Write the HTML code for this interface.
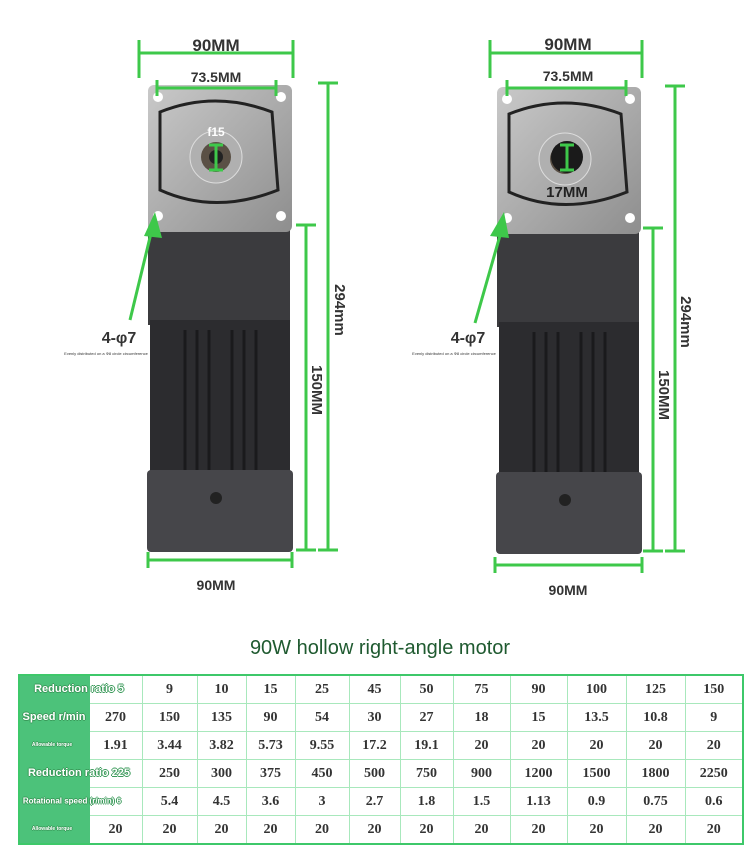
<!DOCTYPE html>
<html><head><meta charset="utf-8"><style>
body{margin:0;width:750px;height:863px;background:#fff;position:relative;overflow:hidden;font-family:"Liberation Sans",sans-serif}
svg{position:absolute;left:0;top:0}
table{position:absolute;left:18px;top:674px;width:724px;table-layout:fixed;border-collapse:collapse;font-family:"Liberation Serif",serif;font-weight:bold;font-size:14px;color:#333;border:2px solid #3ec86a}
td{border:1.5px solid #a8e8bc;height:27px;text-align:center;padding:0}
.g{background:#4cc27a;border-color:#4cc27a}
.l{position:absolute;color:#fff;font-family:"Liberation Sans",sans-serif;font-weight:bold;font-size:11px;white-space:nowrap;transform:translate(-50%,-50%);z-index:5;text-shadow:1px 0 0 #3a9a5a,-1px 0 0 #3a9a5a,0 1px 0 #3a9a5a,0 -1px 0 #3a9a5a}
.s{font-size:5px}
</style></head><body>
<svg width="750" height="863" font-family="Liberation Sans" font-weight="bold">
<defs><linearGradient id="fl" x1="0" y1="0" x2="1" y2="1"><stop offset="0" stop-color="#c9c9c9"/><stop offset="1" stop-color="#8e8e8e"/></linearGradient></defs>
<g id="m1">
<rect x="148" y="225" width="142" height="100" fill="#3b3b3e"/>
<rect x="150" y="320" width="140" height="160" fill="#2c2c2f"/>
<g stroke="#1a1a1c" stroke-width="3"><line x1="185" y1="330" x2="185" y2="470"/><line x1="197" y1="330" x2="197" y2="470"/><line x1="209" y1="330" x2="209" y2="470"/><line x1="232" y1="330" x2="232" y2="470"/><line x1="244" y1="330" x2="244" y2="470"/><line x1="256" y1="330" x2="256" y2="470"/></g>
<rect x="147" y="470" width="146" height="82" rx="4" fill="#46464a"/>
<circle cx="216" cy="498" r="6" fill="#222"/>
<rect x="148" y="85" width="144" height="147" rx="6" fill="url(#fl)"/>
<circle cx="158" cy="97" r="5" fill="#fff"/><circle cx="281" cy="97" r="5" fill="#fff"/><circle cx="158" cy="216" r="5" fill="#fff"/><circle cx="281" cy="216" r="5" fill="#fff"/>
<path d="M160 112 Q215 90 272 112 L278 190 Q215 215 160 190Z" fill="none" stroke="#222" stroke-width="3"/>
<circle cx="216" cy="157" r="26" fill="#b0b0b0" stroke="#ddd"/><circle cx="216" cy="157" r="15" fill="#5a5045"/><circle cx="216" cy="157" r="7" fill="#222"/>
</g>
<use href="#m1" x="349" y="2"/>
<circle cx="567" cy="157" r="16" fill="#1a1a1a"/>
<g stroke="#3ec84a" stroke-width="3" fill="none">
<path d="M139 53H293M139 40V78M293 40V78M157 88H276M157 80V96M276 80V96"/>
<path d="M328 83V550M318 83H338M318 550H338M306 225V550M296 225H316M296 550H316"/>
<path d="M148 560H292M148 552V568M292 552V568"/>
<path d="M490 53H642M490 40V78M642 40V78M507 88H626M507 80V96M626 80V96"/>
<path d="M675 86V551M665 86H685M665 551H685M653 228V551M643 228H663M643 551H663"/>
<path d="M495 565H642M495 557V573M642 557V573"/>
<path d="M130 320L153 225M475 323L503 225M216 145V170M209 145H223M209 170H223M567 145V170M560 145H574M560 170H574"/>
</g>
<path d="M144 236L155 212L162 238Z M490 236L504 212L509 238Z" fill="#3ec84a"/>
<g fill="#333" font-size="17" text-anchor="middle">
<text x="216" y="51">90MM</text><text x="216" y="82" font-size="14">73.5MM</text>
<text x="568" y="50">90MM</text><text x="568" y="81" font-size="14">73.5MM</text>
<text x="216" y="590" font-size="14">90MM</text><text x="568" y="595" font-size="14">90MM</text>
<text x="119" y="343" font-size="16">4-φ7</text><text x="468" y="343" font-size="16">4-φ7</text>
<text x="216" y="136" font-size="12" fill="#fff">f15</text>
<text x="567" y="197" font-size="15" fill="#222">17MM</text>
<text transform="translate(335,310) rotate(90)" font-size="15">294mm</text>
<text transform="translate(312,390) rotate(90)" font-size="15">150MM</text>
<text transform="translate(681,322) rotate(90)" font-size="15">294mm</text>
<text transform="translate(659,395) rotate(90)" font-size="15">150MM</text>
<text x="106" y="355" font-size="4" font-weight="normal">Evenly distributed on a Φ8 circle circumference</text>
<text x="454" y="355" font-size="4" font-weight="normal">Evenly distributed on a Φ8 circle circumference</text>
</g>
<text x="380" y="654" text-anchor="middle" font-size="20" font-weight="normal" fill="#1f5a30">90W hollow right-angle motor</text>
</svg>
<table>
<colgroup><col style="width:70px"><col style="width:53px"><col style="width:55px"><col style="width:49px"><col style="width:49px"><col style="width:54px"><col style="width:51px"><col style="width:53px"><col style="width:57px"><col style="width:57px"><col style="width:59px"><col style="width:59px"><col style="width:58px"></colgroup>
<tr><td class="g"></td><td></td><td>9</td><td>10</td><td>15</td><td>25</td><td>45</td><td>50</td><td>75</td><td>90</td><td>100</td><td>125</td><td>150</td></tr>
<tr><td class="g"></td><td>270</td><td>150</td><td>135</td><td>90</td><td>54</td><td>30</td><td>27</td><td>18</td><td>15</td><td>13.5</td><td>10.8</td><td>9</td></tr>
<tr><td class="g"></td><td>1.91</td><td>3.44</td><td>3.82</td><td>5.73</td><td>9.55</td><td>17.2</td><td>19.1</td><td>20</td><td>20</td><td>20</td><td>20</td><td>20</td></tr>
<tr><td class="g"></td><td></td><td>250</td><td>300</td><td>375</td><td>450</td><td>500</td><td>750</td><td>900</td><td>1200</td><td>1500</td><td>1800</td><td>2250</td></tr>
<tr><td class="g"></td><td></td><td>5.4</td><td>4.5</td><td>3.6</td><td>3</td><td>2.7</td><td>1.8</td><td>1.5</td><td>1.13</td><td>0.9</td><td>0.75</td><td>0.6</td></tr>
<tr><td class="g"></td><td>20</td><td>20</td><td>20</td><td>20</td><td>20</td><td>20</td><td>20</td><td>20</td><td>20</td><td>20</td><td>20</td><td>20</td></tr>
</table>
<div class="l" style="left:79px;top:689px">Reduction ratio 5</div>
<div class="l" style="left:54px;top:717px">Speed r/min</div>
<div class="l s" style="left:52px;top:745px">Allowable torque</div>
<div class="l" style="left:79px;top:773px">Reduction ratio 225</div>
<div class="l" style="left:72px;top:801px;font-size:8px">Rotational speed (r/min) 6</div>
<div class="l s" style="left:52px;top:829px">Allowable torque</div>
</body></html>
